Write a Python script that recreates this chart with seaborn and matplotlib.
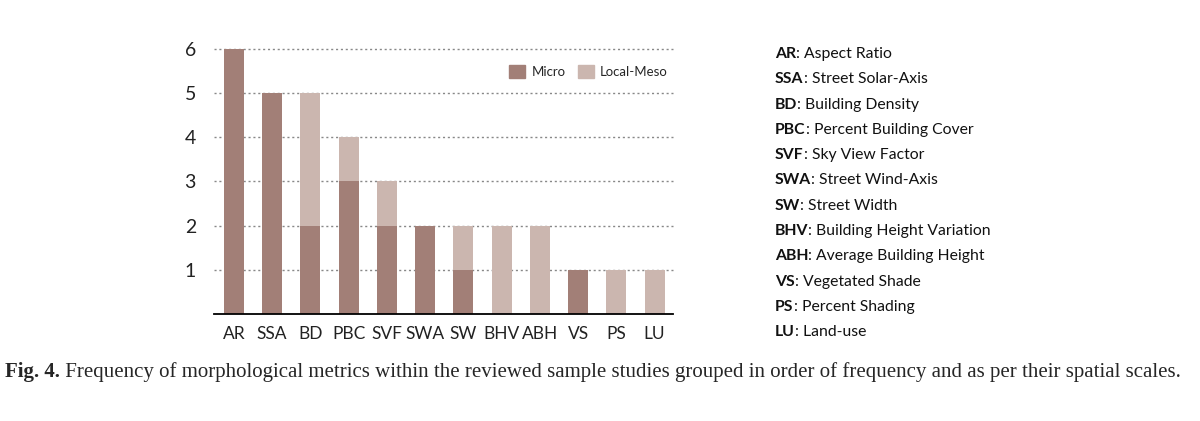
import matplotlib
matplotlib.use('Agg')

import matplotlib.pyplot as plt
import seaborn as sns
import pandas as pd
from matplotlib.patches import Patch

# data
metrics = ['AR', 'SSA', 'BD', 'PBC', 'SVF', 'SWA', 'SW', 'BHV', 'ABH', 'VS', 'PS', 'LU']
micro = [6, 5, 2, 3, 2, 2, 1, 0, 0, 1, 0, 0]
local_meso = [0, 0, 3, 1, 1, 0, 1, 2, 2, 0, 1, 1]
names = ['Aspect Ratio', 'Street Solar-Axis', 'Building Density', 'Percent Building Cover',
         'Sky View Factor', 'Street Wind-Axis', 'Street Width', 'Building Height Variation',
         'Average Building Height', 'Vegetated Shade', 'Percent Shading', 'Land-use']
caption_bold = 'Fig. 4.'
caption = (' Frequency of morphological metrics within the reviewed sample studies grouped '
           'in order of frequency and as per their spatial scales.')

c_micro = '#a27f77'
c_local = '#cbb6af'

sns.set_style('white')
plt.rcParams['font.family'] = ['Lato', 'DejaVu Sans']

df = pd.DataFrame({'metric': metrics, 'micro': micro, 'local': local_meso})
df['total'] = df['micro'] + df['local']

fig = plt.figure(figsize=(12, 4.21), dpi=100)
ax = fig.add_axes([0.1783, 0.2542, 0.3825, 0.6295])

# stacked bars: totals in light colour, micro drawn over them
sns.barplot(data=df, x='metric', y='total', color=c_local, width=0.52,
            saturation=1, linewidth=0, ax=ax, zorder=3)
sns.barplot(data=df, x='metric', y='micro', color=c_micro, width=0.52,
            saturation=1, linewidth=0, ax=ax, zorder=3)

ax.set_xlim(-0.52, 11.48)
ax.set_ylim(0, 6)
ax.set_yticks([1, 2, 3, 4, 5, 6])
for y in [1, 2, 3, 4, 5, 6]:
    ax.axhline(y, color='#888888', lw=1, ls=(0, (1.5, 2)), zorder=1, clip_on=False)
ax.set_xlabel('')
ax.set_ylabel('')
for s in ['left', 'right', 'top']:
    ax.spines[s].set_visible(False)
ax.spines['bottom'].set_color('black')
ax.spines['bottom'].set_linewidth(1.3)
ax.spines['bottom'].set_zorder(4)
ax.tick_params(axis='x', length=0, pad=9, labelsize=12.5, colors='#222222')
ax.tick_params(axis='y', length=0, pad=13, labelsize=14, colors='#222222')

handles = [Patch(color=c_micro, label='Micro'), Patch(color=c_local, label='Local-Meso')]
ax.legend(handles=handles, ncol=2, frameon=False, fontsize=9.5,
          loc='upper right', bbox_to_anchor=(0.989, 0.94), borderaxespad=0, borderpad=0,
          handlelength=1.2, handleheight=1.2, handletextpad=0.5, columnspacing=0.9)

# abbreviation list on the right
renderer = fig.canvas.get_renderer()
x0 = 775 / 1200
for i, (ab, nm) in enumerate(zip(metrics, names)):
    y = 1 - (54 + i * 25.3) / 421
    t = fig.text(x0, y, ab, fontsize=11.3, fontweight='bold', va='center', color='#111111')
    bb = t.get_window_extent(renderer)
    fig.text(bb.x1 / 1200, y, ': ' + nm, fontsize=11.3, va='center', color='#111111')

# caption
cy = 1 - 372 / 421
t = fig.text(5 / 1200, cy, caption_bold, fontsize=15, fontweight='bold', va='center',
             family='Liberation Serif')
bb = t.get_window_extent(renderer)
fig.text(bb.x1 / 1200, cy, caption, fontsize=15, va='center', family='Liberation Serif')

fig.savefig('out.png', dpi=100)
